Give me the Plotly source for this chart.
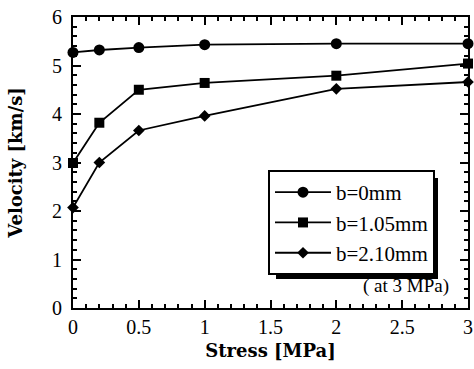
import plotly.graph_objects as go

stress = [0, 0.2, 0.5, 1, 2, 3]
v_b0 = [5.27, 5.32, 5.37, 5.43, 5.45, 5.45]
v_b105 = [2.99, 3.82, 4.50, 4.64, 4.79, 5.04]
v_b210 = [2.07, 3.00, 3.66, 3.96, 4.52, 4.66]
names = ["b=0mm", "b=1.05mm", "b=2.10mm"]
symbols = ["circle", "square", "diamond"]
sizes = [11, 10, 9]

FONT = "Liberation Serif"
TFONT = "DejaVu Serif"
fig = go.Figure()
for vals, nm, sym, sz in zip([v_b0, v_b105, v_b210], names, symbols, sizes):
    fig.add_trace(go.Scatter(x=stress, y=vals, name=nm, mode="lines+markers",
                             line=dict(color="black", width=1.8),
                             marker=dict(symbol=sym, size=sz, color="black"),
                             cliponaxis=False))

axis_common = dict(showgrid=False, zeroline=False, showline=True, linecolor="black",
                   linewidth=2, mirror="ticks", ticks="inside", tickcolor="black",
                   tickwidth=1.5, ticklen=8, automargin=False,
                   tickfont=dict(family=FONT, size=20, color="black"))
fig.update_xaxes(range=[0, 3], tick0=0, dtick=0.5,
                 minor=dict(ticks="inside", dtick=0.1, ticklen=4, tickcolor="black", tickwidth=1.5),
                 title=dict(text="<b>Stress [MPa]</b>", font=dict(family=TFONT, size=18, color="black"), standoff=7),
                 **axis_common)
fig.update_yaxes(range=[0, 6], tick0=0, dtick=1, ticklabelstandoff=5,
                 minor=dict(ticks="inside", dtick=0.2, ticklen=4, tickcolor="black", tickwidth=1.5),
                 title=dict(text="<b>Velocity [km/s]</b>", font=dict(family=TFONT, size=18, color="black"), standoff=25),
                 **axis_common)

L, R, T, B = 73, 6, 17, 61
W = 474 - L - R
H = 369 - T - B
def px(x):
    return (x - L) / W
def py(y):
    return (369 - B - y) / H

# legend shadow
fig.add_shape(type="rect", xref="paper", yref="paper", x0=px(276), x1=px(438), y0=py(279), y1=py(178),
              fillcolor="black", line=dict(width=0), layer="below")
fig.update_layout(
    width=474, height=369,
    margin=dict(l=L, r=R, t=T, b=B),
    paper_bgcolor="white", plot_bgcolor="white",
    font=dict(family=FONT, color="black"),
    legend=dict(x=px(268), y=py(170), xanchor="left", yanchor="top",
                bgcolor="white", bordercolor="black", borderwidth=2,
                font=dict(family=FONT, size=21, color="black"),
                itemwidth=56, tracegroupgap=0),
    showlegend=True,
)
fig.add_annotation(text="( at 3 MPa)", xref="paper", yref="paper", x=px(451), y=py(299),
                   xanchor="right", yanchor="bottom", showarrow=False,
                   font=dict(family=FONT, size=19, color="black"))
fig.write_html("out.html", config={"displayModeBar": False},
               post_script="document.body.style.margin='0';")
